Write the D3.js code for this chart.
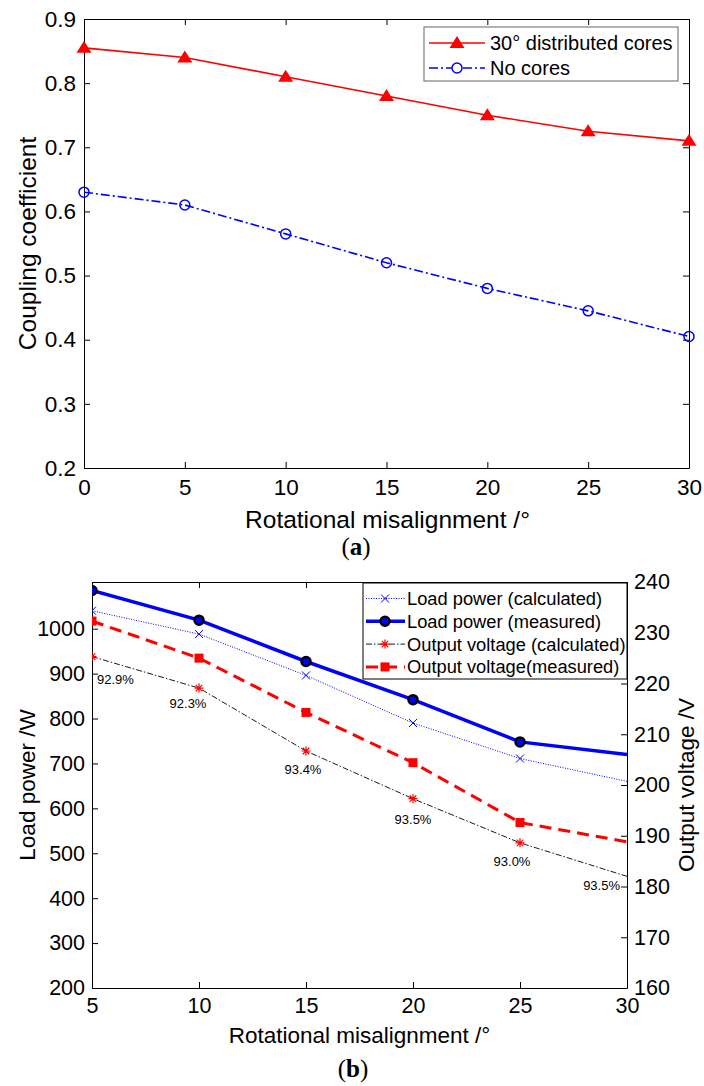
<!DOCTYPE html>
<html>
<head>
<meta charset="utf-8">
<script src="https://cdn.jsdelivr.net/npm/d3@7"></script>
<style>
  body { margin: 0; background: #fff; }
</style>
</head>
<body>
<div id="chart"></div>
<script>
// ---- data (a): coupling coefficient vs rotational misalignment
const anglesA = [0, 5, 10, 15, 20, 25, 30];
const kCores = [0.855, 0.84, 0.81, 0.78, 0.75, 0.725, 0.71];
const kNoCores = [0.63, 0.61, 0.565, 0.52, 0.48, 0.445, 0.405];
const ticksXA = [0, 5, 10, 15, 20, 25, 30];
const ticksYA = [0.2, 0.3, 0.4, 0.5, 0.6, 0.7, 0.8, 0.9];

// ---- data (b): load power / output voltage
const anglesB = [5, 10, 15, 20, 25, 30];
const powerCalc = [1040, 988, 896, 790, 711, 660];
const powerMeas = [1085, 1019, 927, 842, 748, 720];
const voltCalc = [225.3, 219.1, 206.7, 197.3, 188.6, 182];
const voltMeas = [232.3, 225, 214.3, 204.4, 192.6, 188.8];
const efficiency = ["92.9%", "92.3%", "93.4%", "93.5%", "93.0%", "93.5%"];
const ticksXB = [5, 10, 15, 20, 25, 30];
const ticksPower = [200, 300, 400, 500, 600, 700, 800, 900, 1000];
const ticksVolt = [160, 170, 180, 190, 200, 210, 220, 230, 240];

const FONT = "'Liberation Sans', Arial, Helvetica, sans-serif";
const SERIF = "'Liberation Serif', 'DejaVu Serif', serif";

const svg = d3.select("#chart").append("svg")
  .attr("width", 704)
  .attr("height", 1086)
  .style("background", "#fff");

function styleAxis(g, fs) {
  g.attr("font-family", FONT).attr("font-size", fs);
  g.selectAll("path.domain").attr("stroke", "#000").attr("stroke-width", 1);
  g.selectAll(".tick line").attr("stroke", "#000");
  g.selectAll(".tick text").attr("fill", "#000");
}

// marker helpers
function triangle(sel, color) {
  sel.append("path").attr("d", "M0,-7L7.5,5L-7.5,5Z").attr("fill", color);
}
function asterisk(sel, color, r) {
  const d = r * 0.72;
  sel.append("path")
    .attr("d", `M${-r},0H${r}M0,${-r}V${r}M${-d},${-d}L${d},${d}M${-d},${d}L${d},${-d}`)
    .attr("stroke", color).attr("stroke-width", 1.2).attr("fill", "none");
}
function cross(sel, color, r) {
  sel.append("path")
    .attr("d", `M${-r},${-r}L${r},${r}M${-r},${r}L${r},${-r}`)
    .attr("stroke", color).attr("stroke-width", 1).attr("fill", "none");
}

// =================== (a) ===================
const A = { left: 84, right: 689, top: 19, bottom: 468 };
const xA = d3.scaleLinear().domain([0, 30]).range([A.left, A.right]);
const yA = d3.scaleLinear().domain([0.2, 0.9]).range([A.bottom, A.top]);

svg.append("g").attr("transform", `translate(0,${A.bottom})`)
  .call(d3.axisBottom(xA).tickValues(ticksXA).tickSizeInner(-6).tickSizeOuter(0).tickPadding(11))
  .call(g => styleAxis(g, 22.5));
svg.append("g").attr("transform", `translate(0,${A.top})`)
  .call(d3.axisTop(xA).tickValues(ticksXA).tickSizeInner(-6).tickSizeOuter(0).tickFormat(""))
  .call(g => styleAxis(g, 22.5));
svg.append("g").attr("transform", `translate(${A.left},0)`)
  .call(d3.axisLeft(yA).tickValues(ticksYA).tickFormat(d3.format(".1f")).tickSizeInner(-6).tickSizeOuter(0).tickPadding(8))
  .call(g => styleAxis(g, 22.5));
svg.append("g").attr("transform", `translate(${A.right},0)`)
  .call(d3.axisRight(yA).tickValues(ticksYA).tickSizeInner(-6).tickSizeOuter(0).tickFormat(""))
  .call(g => styleAxis(g, 22.5));

const lineA = d3.line().x(d => xA(d[0])).y(d => yA(d[1]));
const coresPts = anglesA.map((a, i) => [a, kCores[i]]);
const nonePts = anglesA.map((a, i) => [a, kNoCores[i]]);

svg.append("path").datum(nonePts)
  .attr("d", lineA).attr("fill", "none")
  .attr("stroke", "#0000ff").attr("stroke-width", 1.6)
  .attr("stroke-dasharray", "9,3,2,3");
svg.append("path").datum(coresPts)
  .attr("d", lineA).attr("fill", "none")
  .attr("stroke", "#ff0000").attr("stroke-width", 1.6);

svg.selectAll(".mk-none").data(nonePts).join("circle")
  .attr("cx", d => xA(d[0])).attr("cy", d => yA(d[1])).attr("r", 5)
  .attr("fill", "none").attr("stroke", "#0000ff").attr("stroke-width", 1.5);
svg.selectAll(".mk-cores").data(coresPts).join("g")
  .attr("transform", d => `translate(${xA(d[0])},${yA(d[1])})`)
  .each(function () { triangle(d3.select(this), "#ff0000"); });

// legend (a)
const legA = svg.append("g");
legA.append("rect").attr("x", 424).attr("y", 27).attr("width", 254).attr("height", 54)
  .attr("fill", "#fff").attr("stroke", "#7f7f7f").attr("stroke-width", 1.2);
const legAItems = [
  { label: "30° distributed cores", color: "#ff0000", dash: null, mk: "tri" },
  { label: "No cores", color: "#0000ff", dash: "9,3,2,3", mk: "circ" }
];
legAItems.forEach((it, i) => {
  const y = 43 + i * 25;
  legA.append("line").attr("x1", 429).attr("x2", 485).attr("y1", y).attr("y2", y)
    .attr("stroke", it.color).attr("stroke-width", 1.6)
    .attr("stroke-dasharray", it.dash);
  const m = legA.append("g").attr("transform", `translate(457,${y})`);
  if (it.mk === "tri") triangle(m, it.color);
  else m.append("circle").attr("r", 5).attr("fill", "#fff").attr("stroke", it.color).attr("stroke-width", 1.5);
  legA.append("text").attr("x", 490).attr("y", y + 7)
    .attr("font-family", FONT).attr("font-size", 20).text(it.label);
});

svg.append("text").attr("transform", `translate(36,${(A.top + A.bottom) / 2}) rotate(-90)`)
  .attr("text-anchor", "middle").attr("font-family", FONT).attr("font-size", 24.5)
  .text("Coupling coefficient");
svg.append("text").attr("x", (A.left + A.right) / 2 + 1).attr("y", 528)
  .attr("text-anchor", "middle").attr("font-family", FONT).attr("font-size", 24.5)
  .text("Rotational misalignment /°");
const capA = svg.append("text").attr("x", 356).attr("y", 555).attr("text-anchor", "middle")
  .attr("font-family", SERIF).attr("font-size", 25);
capA.append("tspan").text("(");
capA.append("tspan").attr("font-weight", "bold").text("a");
capA.append("tspan").text(")");

// =================== (b) ===================
const B = { left: 92, right: 627, top: 582, bottom: 988 };
const xB = d3.scaleLinear().domain([5, 30]).range([B.left, B.right]);
const yP = d3.scaleLinear().domain([200, 1104]).range([B.bottom, B.top]);
const yV = d3.scaleLinear().domain([160, 240]).range([B.bottom, B.top]);

svg.append("clipPath").attr("id", "clipB").append("rect")
  .attr("x", B.left).attr("y", B.top).attr("width", B.right - B.left).attr("height", B.bottom - B.top);

svg.append("g").attr("transform", `translate(0,${B.bottom})`)
  .call(d3.axisBottom(xB).tickValues(ticksXB).tickSizeInner(-6).tickSizeOuter(0).tickPadding(10))
  .call(g => styleAxis(g, 21.5));
svg.append("g").attr("transform", `translate(0,${B.top})`)
  .call(d3.axisTop(xB).tickValues(ticksXB).tickSizeInner(-6).tickSizeOuter(0).tickFormat(""))
  .call(g => styleAxis(g, 21.5));
svg.append("g").attr("transform", `translate(${B.left},0)`)
  .call(d3.axisLeft(yP).tickValues(ticksPower).tickFormat(d3.format("d")).tickSizeInner(-6).tickSizeOuter(0).tickPadding(7))
  .call(g => styleAxis(g, 21.5));
svg.append("g").attr("transform", `translate(${B.right},0)`)
  .call(d3.axisRight(yV).tickValues(ticksVolt).tickSizeInner(-6).tickSizeOuter(0).tickPadding(7))
  .call(g => styleAxis(g, 21.5));

const plotB = svg.append("g").attr("clip-path", "url(#clipB)");
const lineP = d3.line().x(d => xB(d[0])).y(d => yP(d[1]));
const lineV = d3.line().x(d => xB(d[0])).y(d => yV(d[1]));
const pc = anglesB.map((a, i) => [a, powerCalc[i]]);
const pm = anglesB.map((a, i) => [a, powerMeas[i]]);
const vc = anglesB.map((a, i) => [a, voltCalc[i]]);
const vm = anglesB.map((a, i) => [a, voltMeas[i]]);
const marked = d => d[0] < 30;

plotB.append("path").datum(vc).attr("d", lineV).attr("fill", "none")
  .attr("stroke", "#000").attr("stroke-width", 0.9).attr("stroke-dasharray", "6,2,1.5,2");
plotB.append("path").datum(vm).attr("d", lineV).attr("fill", "none")
  .attr("stroke", "#ff0000").attr("stroke-width", 3).attr("stroke-dasharray", "12,7");
plotB.append("path").datum(pc).attr("d", lineP).attr("fill", "none")
  .attr("stroke", "#0000ff").attr("stroke-width", 1).attr("stroke-dasharray", "1,1.5");
plotB.append("path").datum(pm).attr("d", lineP).attr("fill", "none")
  .attr("stroke", "#0000ff").attr("stroke-width", 3.5);

plotB.selectAll(".mk-vc").data(vc.filter(marked)).join("g")
  .attr("transform", d => `translate(${xB(d[0])},${yV(d[1])})`)
  .each(function () { asterisk(d3.select(this), "#ff0000", 4.5); });
plotB.selectAll(".mk-vm").data(vm.filter(marked)).join("rect")
  .attr("x", d => xB(d[0]) - 4.5).attr("y", d => yV(d[1]) - 4.5)
  .attr("width", 9).attr("height", 9).attr("fill", "#ff0000");
plotB.selectAll(".mk-pc").data(pc.filter(marked)).join("g")
  .attr("transform", d => `translate(${xB(d[0])},${yP(d[1])})`)
  .each(function () { cross(d3.select(this), "#0000ff", 4); });
plotB.selectAll(".mk-pm").data(pm.filter(marked)).join("circle")
  .attr("cx", d => xB(d[0])).attr("cy", d => yP(d[1])).attr("r", 4.5)
  .attr("fill", "#0000ff").attr("stroke", "#000").attr("stroke-width", 2.5);

// efficiency labels under the calculated voltage points
const effLayout = [
  { dx: 5, dy: 27, anchor: "start" },
  { dx: -11, dy: 20, anchor: "middle" },
  { dx: -3, dy: 23, anchor: "middle" },
  { dx: 0, dy: 25, anchor: "middle" },
  { dx: -8, dy: 23, anchor: "middle" },
  { dx: -7, dy: 14, anchor: "end" }
];
svg.selectAll(".eff").data(efficiency).join("text")
  .attr("x", (d, i) => xB(anglesB[i]) + effLayout[i].dx)
  .attr("y", (d, i) => yV(voltCalc[i]) + effLayout[i].dy)
  .attr("text-anchor", (d, i) => effLayout[i].anchor)
  .attr("font-family", FONT).attr("font-size", 13).attr("fill", "#000")
  .text(d => d);

// legend (b)
const legB = svg.append("g");
legB.append("rect").attr("x", 363).attr("y", 583).attr("width", 264).attr("height", 96)
  .attr("fill", "#fff").attr("stroke", "#000").attr("stroke-width", 1);
const legBItems = [
  { label: "Load power (calculated)", color: "#0000ff", w: 1, dash: "1,1.5", mk: "x" },
  { label: "Load power (measured)", color: "#0000ff", w: 3.5, dash: null, mk: "o" },
  { label: "Output voltage (calculated)", color: "#000", w: 0.9, dash: "6,2,1.5,2", mk: "*" },
  { label: "Output voltage(measured)", color: "#ff0000", w: 3, dash: "12,7", mk: "s" }
];
legBItems.forEach((it, i) => {
  const y = 598.5 + i * 22.8;
  legB.append("line").attr("x1", 366).attr("x2", 405).attr("y1", y).attr("y2", y)
    .attr("stroke", it.color).attr("stroke-width", it.w).attr("stroke-dasharray", it.dash);
  const m = legB.append("g").attr("transform", `translate(385,${y})`);
  if (it.mk === "x") cross(m, "#0000ff", 4);
  else if (it.mk === "o") m.append("circle").attr("r", 4.5).attr("fill", "#0000ff").attr("stroke", "#000").attr("stroke-width", 2.5);
  else if (it.mk === "*") asterisk(m, "#ff0000", 4.5);
  else m.append("rect").attr("x", -4.5).attr("y", -4.5).attr("width", 9).attr("height", 9).attr("fill", "#ff0000");
  legB.append("text").attr("x", 407).attr("y", y + 6.5)
    .attr("font-family", FONT).attr("font-size", 18.3).text(it.label);
});

svg.append("text").attr("transform", `translate(35,${(B.top + B.bottom) / 2}) rotate(-90)`)
  .attr("text-anchor", "middle").attr("font-family", FONT).attr("font-size", 22.5)
  .text("Load power /W");
svg.append("text").attr("transform", `translate(694,${(B.top + B.bottom) / 2}) rotate(-90)`)
  .attr("text-anchor", "middle").attr("font-family", FONT).attr("font-size", 22.5)
  .text("Output voltage /V");
svg.append("text").attr("x", (B.left + B.right) / 2).attr("y", 1043)
  .attr("text-anchor", "middle").attr("font-family", FONT).attr("font-size", 22.5)
  .text("Rotational misalignment /°");
const capB = svg.append("text").attr("x", 353).attr("y", 1077).attr("text-anchor", "middle")
  .attr("font-family", SERIF).attr("font-size", 25);
capB.append("tspan").text("(");
capB.append("tspan").attr("font-weight", "bold").text("b");
capB.append("tspan").text(")");
</script>
</body>
</html>
